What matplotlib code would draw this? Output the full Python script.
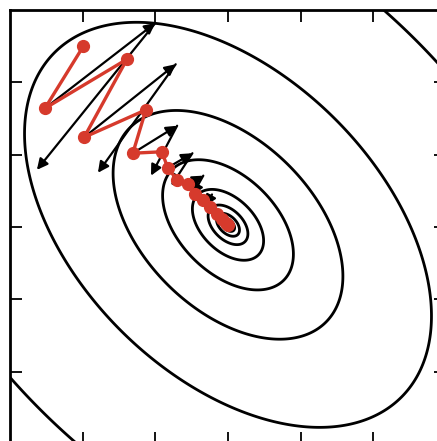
import numpy as np
import matplotlib
matplotlib.use("Agg")
import matplotlib.pyplot as plt

# ---- data ----
# quadratic bowl f = [x,y] A [x,y]^T, A = inv([[1, s],[s, 1]])
cov_offdiag = -0.45
center = (0.0, 0.03)
levels = [0.0027, 0.0083, 0.025, 0.075, 0.24, 0.81, 2.5, 7.84, 24.0]

# iterates (red path)
path_x = [-1.99, -2.52, -1.39, -1.98, -1.13, -1.31, -0.91, -0.83, -0.70, -0.55,
          -0.45, -0.34, -0.25, -0.15, -0.08, -0.03, 0.0]
path_y = [2.50, 1.64, 2.32, 1.24, 1.62, 1.02, 1.04, 0.82, 0.65, 0.59,
          0.45, 0.38, 0.27, 0.18, 0.11, 0.05, 0.03]

# black arrows: start (odd iterate) -> A, then A -> B
arr_sx = [-2.52, -1.98, -1.31, -0.83, -0.55, -0.34]
arr_sy = [1.64, 1.24, 1.02, 0.82, 0.59, 0.38]
arr_ax = [-1.00, -0.72, -0.70, -0.49, -0.34, -0.22]
arr_ay = [2.82, 2.25, 1.40, 1.02, 0.71, 0.45]
arr_bx = [-2.63, -1.79, -1.06, -0.78, -0.49, -0.31]
arr_by = [0.79, 0.75, 0.71, 0.57, 0.44, 0.29]

# ---- figure ----
W, H = 437, 441
fig = plt.figure(figsize=(W / 100, H / 100), dpi=100)
ax = fig.add_axes([10 / W, -3 / H, 436 / W, 434 / H])

g = np.linspace(-3.2, 3.2, 600)
X, Y = np.meshgrid(g, g)
S = np.array([[1.0, cov_offdiag], [cov_offdiag, 1.0]])
A = np.linalg.inv(S)
dx, dy = X - center[0], Y - center[1]
F = A[0, 0] * dx ** 2 + 2 * A[0, 1] * dx * dy + A[1, 1] * dy ** 2
ax.contour(X, Y, F, levels=levels, colors="black", linewidths=2.0, zorder=1)

red = "#d63a2c"
for sx, sy, axx, ayy, bx, by in zip(arr_sx, arr_sy, arr_ax, arr_ay, arr_bx, arr_by):
    ax.annotate("", xy=(axx, ayy), xytext=(sx, sy),
                arrowprops=dict(arrowstyle="-|>", lw=1.6, color="black",
                                mutation_scale=16, shrinkA=0, shrinkB=0),
                zorder=2)
    ax.annotate("", xy=(bx, by), xytext=(axx, ayy),
                arrowprops=dict(arrowstyle="-|>", lw=1.6, color="black",
                                mutation_scale=16, shrinkA=0, shrinkB=0),
                zorder=2)

ax.plot(path_x, path_y, color=red, lw=2.4, marker="o", ms=8.5,
        markerfacecolor=red, markeredgecolor=red, zorder=3)

ax.set_xlim(-3, 3)
ax.set_ylim(-3, 3)
ax.set_xticks([-2, -1, 0, 1, 2])
ax.set_yticks([-2, -1, 0, 1, 2])
ax.tick_params(direction="in", length=8.5, width=1.3, top=True, right=True,
               labelbottom=False, labelleft=False)
for sp in ax.spines.values():
    sp.set_linewidth(2.0)

fig.savefig("out.png", dpi=100)
